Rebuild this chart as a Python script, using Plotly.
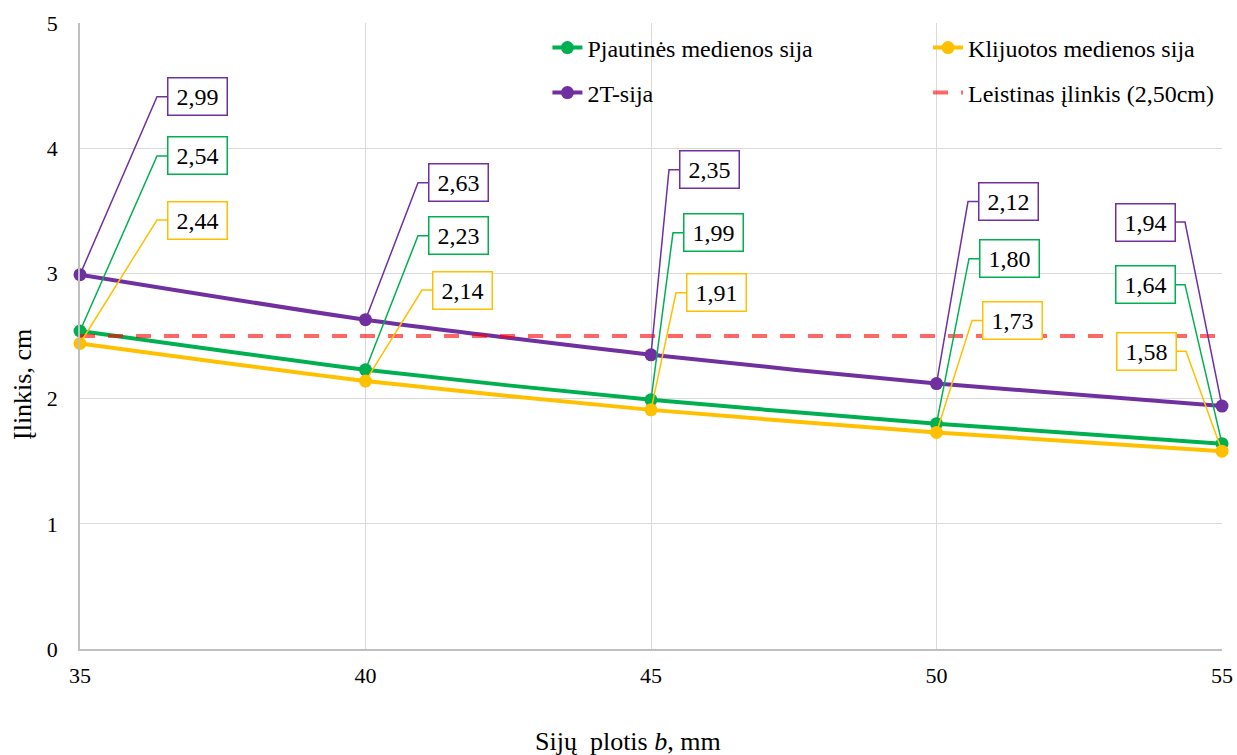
import plotly.graph_objects as go

# ---- data ----
widths = [35, 40, 45, 50, 55]
pjautines = [2.54, 2.23, 1.99, 1.80, 1.64]
klijuotos = [2.44, 2.14, 1.91, 1.73, 1.58]
dvit = [2.99, 2.63, 2.35, 2.12, 1.94]
limit = 2.50

names = ["Pjautinės medienos sija", "Klijuotos medienos sija", "2T-sija", "Leistinas įlinkis (2,50cm)"]
colors = ["#00B050", "#FFC000", "#7030A0"]

# ---- label callout layout (pixel offsets of leader elbow from the point) ----
elbow_dx = {
    "g": [77, 52.5, 22, 32.5, -37],
    "y": [77, 56.5, 25, 35.5, -36],
    "p": [77, 52.5, 18, 31.5, -37],
}
elbow_dy = {
    "g": [175, 134, 167, 165, 159],
    "y": [123.5, 91, 117, 112, 100],
    "p": [178, 137, 185, 182, 184],
}

FONT = "'Liberation Serif', 'Times New Roman', serif"

fig = go.Figure()

series = [("g", pjautines, colors[0], names[0], "legend"),
          ("y", klijuotos, colors[1], names[1], "legend3"),
          ("p", dvit, colors[2], names[2], "legend2")]

for key, vals, col, nm, lg in series:
    fig.add_trace(go.Scatter(
        x=widths, y=vals, name=nm, mode="lines+markers",
        line=dict(color=col, width=4, shape="spline", smoothing=0.6),
        marker=dict(size=13, color=col),
        cliponaxis=False, legend=lg,
    ))

fig.add_trace(go.Scatter(
    x=widths, y=[limit] * len(widths), name=names[3], mode="lines",
    line=dict(color="rgba(255,0,0,0.6)", width=4, dash="15px,13px"),
    legend="legend4",
))

GAP = 11
HALF = 29
shapes = []
annotations = []
for key, vals, col, nm, lg in series:
    for i, (xv, yv) in enumerate(zip(widths, vals)):
        dx = elbow_dx[key][i]
        dy = elbow_dy[key][i]
        s = 1 if dx >= 0 else -1
        shapes.append(dict(
            type="path", xref="x", yref="y", xsizemode="pixel", ysizemode="pixel",
            xanchor=xv, yanchor=yv,
            path=f"M0,0 L{dx},{dy} L{dx + s * GAP},{dy}",
            line=dict(color=col, width=1.5), layer="above",
        ))
        annotations.append(dict(
            x=xv, y=yv, xref="x", yref="y",
            xshift=dx + s * (GAP + HALF), yshift=dy,
            text=f"{yv:.2f}".replace(".", ","), showarrow=False,
            xanchor="center", yanchor="middle",
            font=dict(family=FONT, size=24, color="black"),
            bgcolor="white", bordercolor=col, borderwidth=1.5, borderpad=3,
            width=52, height=30,
        ))

annotations.append(dict(
    x=(628 - 80) / 1142, y=(649 - 741) / 626, xref="paper", yref="paper",
    text="Sijų\u00a0 plotis <i>b</i>, mm", showarrow=False,
    xanchor="center", yanchor="middle",
    font=dict(family=FONT, size=26, color="black"),
))
annotations.append(dict(
    x=(22 - 80) / 1142, y=(649 - 385) / 626, xref="paper", yref="paper",
    text="Įlinkis, cm", showarrow=False, textangle=-90,
    xanchor="center", yanchor="middle",
    font=dict(family=FONT, size=26, color="black"),
))

legfont = dict(family=FONT, size=24, color="black")
def leg(x, y):
    return dict(x=x, y=y, xanchor="left", yanchor="middle", font=legfont,
                bgcolor="rgba(0,0,0,0)", borderwidth=0)

fig.update_layout(
    width=1237, height=755,
    font=dict(family=FONT, color="black"),
    margin=dict(l=80, r=15, t=23, b=106, autoexpand=False),
    paper_bgcolor="white", plot_bgcolor="white",
    showlegend=True,
    legend=leg(0.4093, (649 - 48) / 626),
    legend2=leg(0.4093, (649 - 93) / 626),
    legend3=leg(0.7426, (649 - 48) / 626),
    legend4=leg(0.7426, (649 - 93) / 626),
    shapes=shapes,
    annotations=annotations,
    xaxis=dict(range=[35, 55], tickvals=widths, ticktext=[str(w) for w in widths],
               showgrid=True, gridcolor="#D9D9D9", gridwidth=1.3,
               showline=True, linecolor="#BFBFBF", linewidth=1.5,
               zeroline=False, ticks="outside", ticklen=6, tickcolor="rgba(0,0,0,0)",
               automargin=False,
               tickfont=dict(family=FONT, size=22, color="black")),
    yaxis=dict(range=[0, 5], dtick=1,
               showgrid=True, gridcolor="#D9D9D9", gridwidth=1.3,
               showline=True, linecolor="#BFBFBF", linewidth=1.5,
               zeroline=False, ticks="outside", ticklen=16, tickcolor="rgba(0,0,0,0)",
               automargin=False,
               tickfont=dict(family=FONT, size=22, color="black")),
)

fig.write_html("out.html")
